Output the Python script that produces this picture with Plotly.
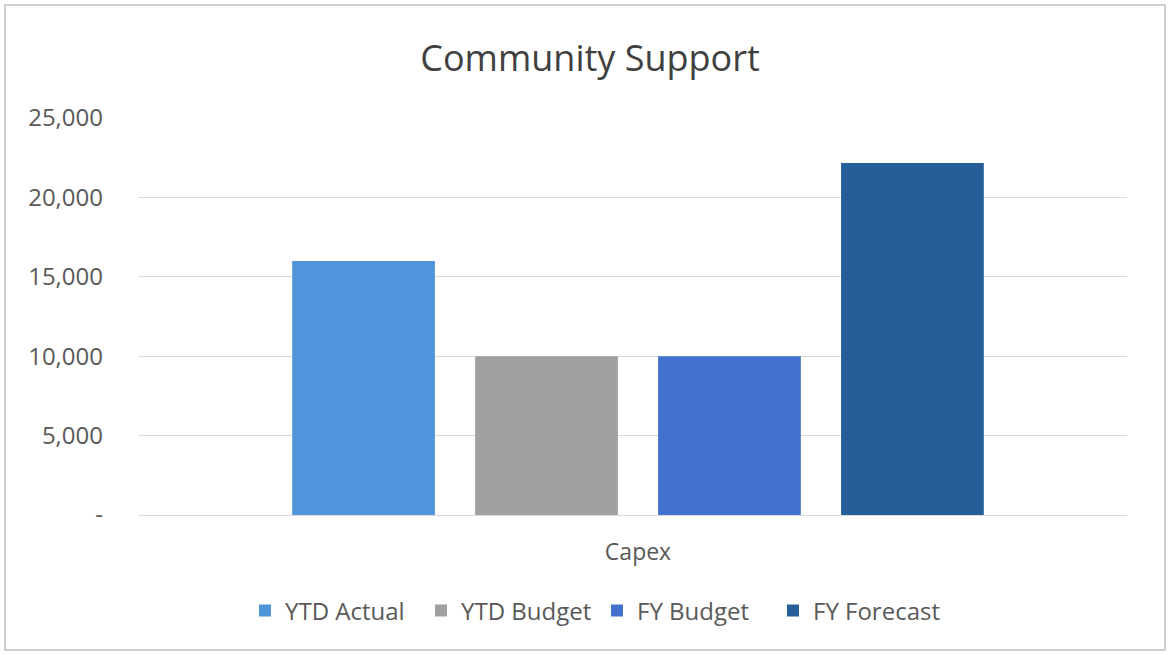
import plotly.graph_objects as go

categories = ["Capex"]
series_names = ["YTD Actual", "YTD Budget", "FY Budget", "FY Forecast"]
series_values = [[16000], [10000], [10000], [22170]]
series_colors = ["#4f95db", "#a0a0a0", "#4171cc", "#255e99"]
tick_vals = [0, 5000, 10000, 15000, 20000, 25000]
tick_text = ["-", "5,000", "10,000", "15,000", "20,000", "25,000"]

FONT = "Open Sans"
fig = go.Figure()
for name, vals, col in zip(series_names, series_values, series_colors):
    fig.add_trace(go.Bar(x=categories, y=vals, name=name, marker=dict(color=col, line=dict(width=0))))

W, H = 1168, 655
L, R, T, B = 138, 41, 118, 140
pw, ph = W - L - R, H - T - B

def px(x):
    return (x - L) / pw

def py(y):
    return (H - B - y) / ph

shift = 5.5 / pw

fig.update_layout(
    width=W, height=H,
    margin=dict(l=L, r=R, t=T, b=B),
    paper_bgcolor="white", plot_bgcolor="white",
    barmode="group", bargap=0.26, bargroupgap=0.22,
    font=dict(family=FONT, color="#595959", size=24),
    title=dict(text="Community Support", x=px(590), xanchor="center", xref="paper",
               y=1 - 58 / H, yanchor="middle", yref="container",
               font=dict(family=FONT, size=36, color="#404040")),
    xaxis=dict(showgrid=False, showline=True, linecolor="#d9d9d9", linewidth=1,
               range=[-0.5 - shift, 0.5 - shift],
               ticks="", ticklabelstandoff=16, tickfont=dict(size=23, color="#595959")),
    yaxis=dict(range=[0, 25000], tickvals=tick_vals, ticktext=tick_text,
               showgrid=True, gridcolor="#d9d9d9", gridwidth=1, zeroline=False,
               showline=False, ticks="", ticklabelstandoff=34,
               tickfont=dict(size=24, color="#595959")),
    legend=dict(orientation="h", x=px(597), xanchor="center", y=py(611), yanchor="middle",
                font=dict(size=24, color="#595959"), itemwidth=30, traceorder="normal",
                entrywidth=131, entrywidthmode="pixels",
                bgcolor="rgba(0,0,0,0)"),
    shapes=[dict(type="rect", xref="paper", yref="paper",
                 x0=px(5), x1=px(1165), y0=py(650), y1=py(5),
                 line=dict(color="#d0d0d0", width=2), fillcolor="rgba(0,0,0,0)", layer="below")],
)

fig.write_html("out.html")
